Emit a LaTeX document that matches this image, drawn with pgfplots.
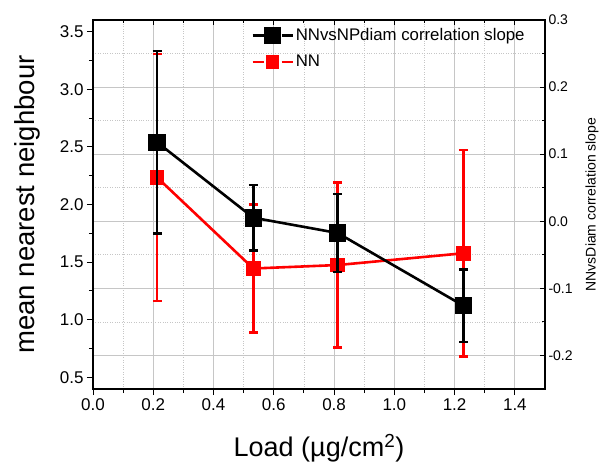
\documentclass[border=0pt]{standalone}
\usepackage{pgfplots}
\pgfplotsset{compat=1.18}
\usepackage{fontspec}
\setmainfont{Liberation Sans}
\begin{document}
\begin{tikzpicture}
\pgfplotsset{
  common/.style={
    width=452pt, height=369pt, scale only axis,
    xmin=0, xmax=1.5,
    xtick={0,0.2,0.4,0.6,0.8,1.0,1.2,1.4}, minor x tick num=1,
    /pgf/number format/.cd, fixed, fixed zerofill, precision=1, assume math mode=true,
    /pgfplots/.cd,
  },
  lgimg/.style={legend image code/.code={
      \draw[##1, mark=none] (0pt,0pt) -- (11pt,0pt) (29pt,0pt) -- (40pt,0pt);
      \draw[##1, only marks] plot coordinates {(20pt,0pt)};
  }},
}
% grid axis (right-axis grid)
\begin{axis}[common,
  ymin=-0.25, ymax=0.3,
  ytick={-0.2,-0.1,0,0.1,0.2,0.3}, minor y tick num=1,
  grid=both,
  major grid style={gray!45, line width=0.9pt},
  minor grid style={gray!45, dotted, line width=0.8pt},
  axis line style={draw=none},
  major tick length=0pt, minor tick length=0pt,
  xticklabels={}, yticklabels={},
]
\addplot[draw=none] coordinates {(0.5,0)};
\end{axis}
% left axis: red
\begin{axis}[common,
  ymin=0.4, ymax=3.6,
  ytick={0.5,1.0,1.5,2.0,2.5,3.0,3.5}, minor y tick num=1,
  xtick pos=bottom, ytick pos=left,
  xticklabel pos=bottom, yticklabel pos=left,
  tick align=outside,
  major tick length=6pt, minor tick length=4pt,
  every tick/.style={black, line width=1pt},
  axis line style={line width=1.3pt},
  tick label style={font=\fontsize{17}{17}\selectfont},
  xlabel={Load (\textmu g/cm\textsuperscript{2})},
  ylabel={mean nearest neighbour},
  xlabel style={font=\fontsize{27}{27}\selectfont},
  ylabel style={font=\fontsize{27.5}{27.5}\selectfont},
  xlabel shift=17pt, ylabel shift=13pt,
]
\addplot[red, line width=2.6pt, mark=square*, mark size=6pt,
  mark options={solid, fill=red},
  error bars/.cd, y dir=both, y explicit,
  error bar style={line width=2.6pt, red},
  error mark options={rotate=90, mark size=4.5pt, line width=2.6pt, red}]
  coordinates {
  (0.213,2.234) +- (0,1.070)
  (0.532,1.445) +- (0,0.555)
  (0.812,1.475) +- (0,0.716)
  (1.229,1.577) +- (0,0.896)
};
\end{axis}
% right axis: black
\begin{axis}[common, lgimg,
  ymin=-0.25, ymax=0.3,
  ytick={-0.2,-0.1,0,0.1,0.2,0.3}, minor y tick num=1,
  xtick pos=top, ytick pos=right,
  xticklabel pos=top, yticklabel pos=right,
  xticklabels={},
  tick align=inside,
  major tick length=5pt, minor tick length=3.5pt,
  every tick/.style={black, line width=1pt},
  axis line style={line width=1.3pt},
  yticklabel style={font=\fontsize{14}{14}\selectfont},
  ylabel={NNvsDiam correlation slope},
  ylabel style={font=\fontsize{14}{14}\selectfont},
  ylabel shift=6pt,
  legend style={at={(0.343,0.988)}, anchor=north west, draw=none, fill=none,
    font=\fontsize{16.8}{17}\selectfont, row sep=9pt},
  legend cell align=left,
]
\addplot[black, line width=2.6pt, mark=square*, mark size=7.5pt,
  mark options={solid, fill=black},
  error bars/.cd, y dir=both, y explicit,
  error bar style={line width=2.6pt, black},
  error mark options={rotate=90, mark size=4.5pt, line width=2.6pt, black}]
  coordinates {
  (0.213,0.1177) +- (0,0.136)
  (0.532,0.0053) +- (0,0.049)
  (0.812,-0.0175) +- (0,0.058)
  (1.229,-0.1258) +- (0,0.054)
};
\addlegendentry{NNvsNPdiam correlation slope}
\addlegendimage{red, line width=2.6pt, mark=square*, mark size=5.5pt, mark options={solid, fill=red}}
\addlegendentry{NN}
\end{axis}
\pgfresetboundingbox
\path[use as bounding box] ([shift={(-93pt,-81pt)}]current axis.south west) rectangle ([shift={(56pt,20pt)}]current axis.north east);
\end{tikzpicture}
\end{document}
